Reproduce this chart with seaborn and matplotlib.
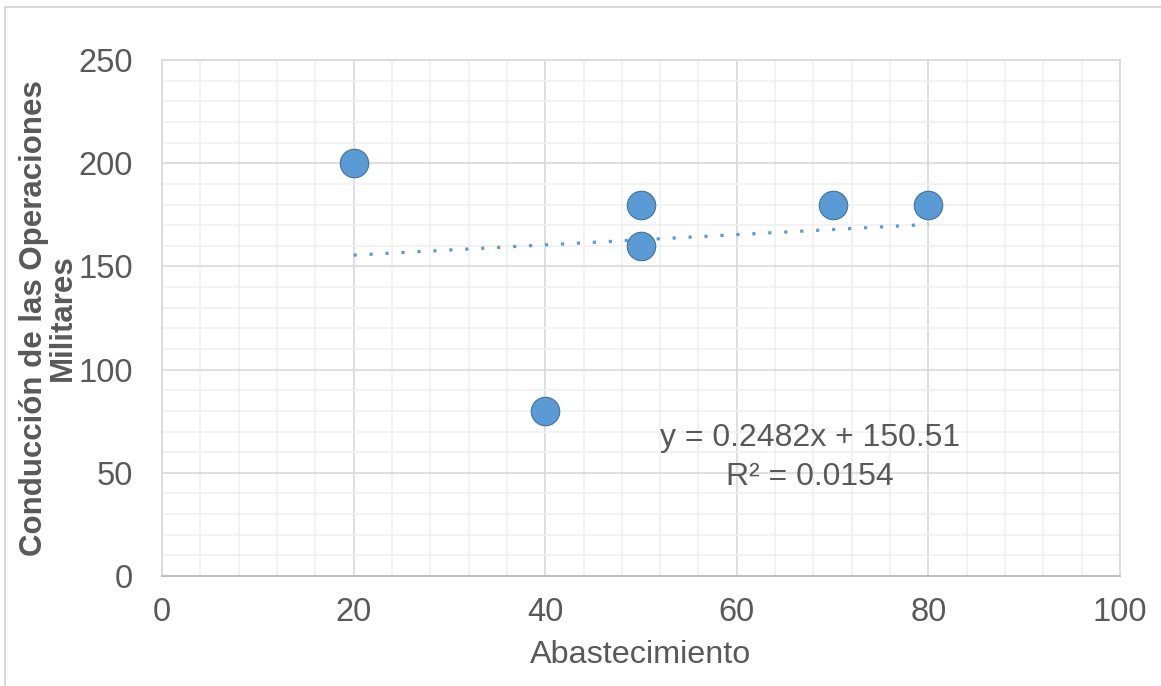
import matplotlib
matplotlib.use("Agg")
import matplotlib.pyplot as plt
from matplotlib.lines import Line2D
from matplotlib.ticker import MultipleLocator
import seaborn as sns
import numpy as np
import pandas as pd

# data
abastecimiento = [20, 40, 50, 50, 70, 80]
conduccion = [200, 80, 180, 160, 180, 180]
slope = 0.2482
intercept = 150.51
r2 = 0.0154

df = pd.DataFrame({"x": abastecimiento, "y": conduccion})

sns.set_theme(style="white")
plt.rcParams['font.family'] = ['Liberation Sans', 'DejaVu Sans']

txt = "#595959"
blue = "#5B9BD5"

fig = plt.figure(figsize=(11.61, 6.86), dpi=100)
ax = fig.add_axes([0.1395, 0.1603, 0.8252, 0.7522])

# outer chart border (top and left edges visible)
fig.add_artist(Line2D([5 / 1161, 5 / 1161], [0, 1 - 7 / 686], transform=fig.transFigure,
                      color="#d9d9d9", lw=1.5))
fig.add_artist(Line2D([5 / 1161, 1], [1 - 7 / 686, 1 - 7 / 686], transform=fig.transFigure,
                      color="#d9d9d9", lw=1.5))

# linear trendline across data range
tx = np.array([min(abastecimiento), max(abastecimiento)])
ax.plot(tx, slope * tx + intercept, color=blue, lw=2.3, linestyle=(0, (1, 4)),
        dash_capstyle="butt", zorder=3)

sns.scatterplot(data=df, x="x", y="y", ax=ax, s=420, color=blue,
                edgecolor="#41719C", linewidth=0.8, zorder=4, legend=False)

ax.set_xlim(0, 100)
ax.set_ylim(0, 250)
ax.xaxis.set_major_locator(MultipleLocator(20))
ax.xaxis.set_minor_locator(MultipleLocator(4))
ax.yaxis.set_major_locator(MultipleLocator(50))
ax.yaxis.set_minor_locator(MultipleLocator(10))
ax.grid(which="major", color="#d9d9d9", lw=1.2, zorder=0)
ax.grid(which="minor", color="#f0f0f0", lw=1.2, zorder=0)
ax.set_axisbelow(True)

for side in ["top", "right", "left"]:
    ax.spines[side].set_color("#d9d9d9")
    ax.spines[side].set_linewidth(1.2)
ax.spines["bottom"].set_color("#bfbfbf")
ax.spines["bottom"].set_linewidth(1.5)

ax.tick_params(axis="both", which="both", length=0, labelsize=23.5, labelcolor=txt)
ax.tick_params(axis="x", pad=15)
ax.tick_params(axis="y", pad=21)

ax.set_xlabel("Abastecimiento", fontsize=23.3, color=txt, labelpad=9)
ax.set_ylabel("Conducción de las Operaciones\nMilitares", fontsize=22.5, color=txt,
              fontweight="bold", linespacing=0.95)
ax.yaxis.label.set_va("center")
ax.yaxis.set_label_coords(-0.118, 0.5)

ax.text(67.6, 67, f"y = {slope}x + {intercept}", fontsize=23, color=txt,
        ha="center", va="center", zorder=2)
ax.text(67.6, 48, f"R² = {r2}", fontsize=23, color=txt,
        ha="center", va="center", zorder=2)

fig.savefig("out.png", dpi=100)
